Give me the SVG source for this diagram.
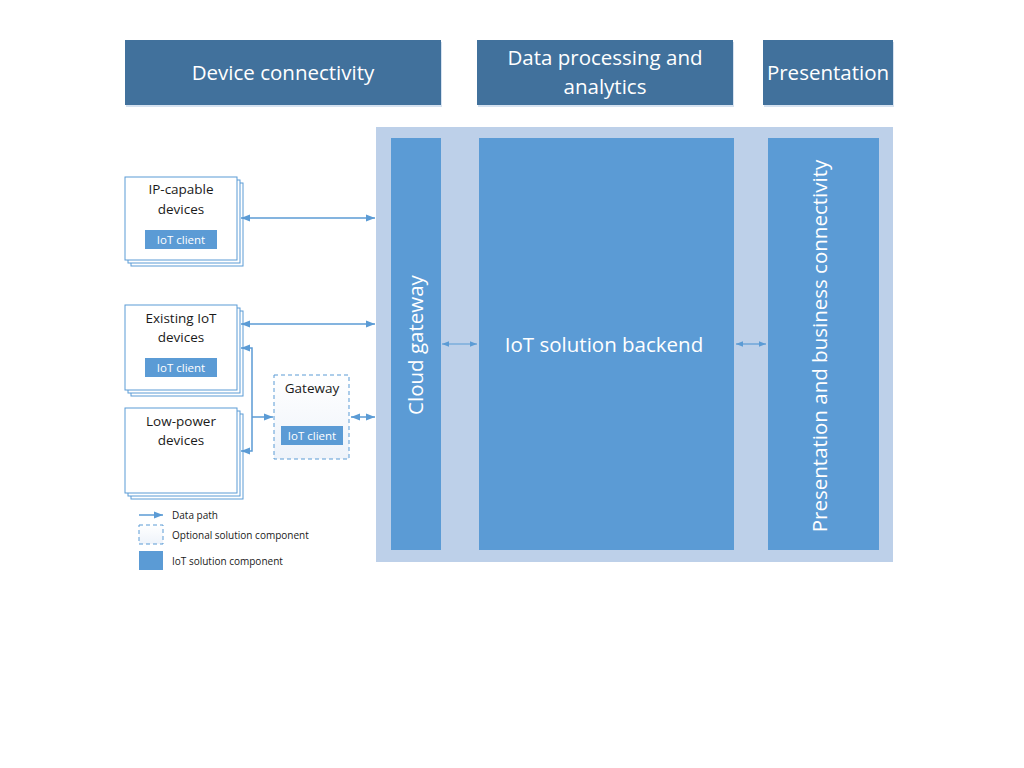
<svg xmlns="http://www.w3.org/2000/svg" width="1024" height="768" viewBox="0 0 1024 768">
<defs>
<style>
.hdr{fill:#41719C}
.hdrt{font-family:"Open Sans","Liberation Sans",sans-serif;font-size:20.5px;fill:#ffffff;text-anchor:middle}
.comp{fill:#5B9BD5}
.compt{font-family:"Open Sans","Liberation Sans",sans-serif;font-size:20.5px;fill:#ffffff;text-anchor:middle}
.dev{fill:#ffffff;stroke:#5B9BD5;stroke-width:1}
.devt{font-family:"Open Sans","Liberation Sans",sans-serif;font-size:13.5px;fill:#1a1a1a;text-anchor:middle}
.cl{fill:#5B9BD5}
.clt{font-family:"Open Sans","Liberation Sans",sans-serif;font-size:11.5px;fill:#ffffff;text-anchor:middle}
.con{fill:none;stroke:#5B9BD5;stroke-width:1.5}
.lgt{font-family:"Open Sans","Liberation Sans",sans-serif;font-size:10px;fill:#1a1a1a}
</style>
<linearGradient id="gw" x1="0" y1="0" x2="0" y2="1">
<stop offset="0" stop-color="#ffffff"/>
<stop offset="1" stop-color="#eef3fa"/>
</linearGradient>
<marker id="ah" viewBox="0 0 10 10" refX="10" refY="5" markerWidth="6" markerHeight="6" orient="auto-start-reverse" markerUnits="strokeWidth">
<path d="M0,1 L10,5 L0,9 Z" fill="#5B9BD5"/>
</marker>
</defs>
<rect width="1024" height="768" fill="#ffffff"/>

<g id="hdr-device">
<rect x="126" y="42" width="316" height="65" fill="#D6E2F0"/>
<rect class="hdr" x="125" y="40" width="316" height="65"/>
<text class="hdrt" x="283" y="80">Device connectivity</text>
</g>
<g id="hdr-data">
<rect x="478" y="42" width="256" height="65" fill="#D6E2F0"/>
<rect class="hdr" x="477" y="40" width="256" height="65"/>
<text class="hdrt" x="605" y="65">Data processing and</text>
<text class="hdrt" x="605" y="94">analytics</text>
</g>
<g id="hdr-presentation">
<rect x="764" y="42" width="130" height="65" fill="#D6E2F0"/>
<rect class="hdr" x="763" y="40" width="130" height="65"/>
<text class="hdrt" x="828" y="80">Presentation</text>
</g>

<g id="solution-panel">
<rect x="376" y="127" width="517" height="435" fill="#BDD0E9"/>
</g>
<g id="cloud-gateway">
<rect class="comp" x="391" y="138" width="50" height="412"/>
<text class="compt" transform="translate(423,345) rotate(-90)">Cloud gateway</text>
</g>
<g id="backend">
<rect class="comp" x="479" y="138" width="255" height="412"/>
<text class="compt" x="604" y="352">IoT solution backend</text>
</g>
<g id="presentation-connectivity">
<rect class="comp" x="768" y="138" width="111" height="412"/>
<text class="compt" transform="translate(827,346) rotate(-90)">Presentation and business connectivity</text>
</g>

<g id="ip-devices">
<rect class="dev" x="131" y="183" width="112" height="83"/>
<rect class="dev" x="128" y="180" width="112" height="83"/>
<rect class="dev" x="125" y="177" width="112" height="83"/>
<text class="devt" x="181" y="194">IP-capable</text>
<text class="devt" x="181" y="214">devices</text>
<rect class="cl" x="145" y="230" width="72" height="19"/>
<text class="clt" x="181" y="244">IoT client</text>
</g>
<g id="existing-devices">
<rect class="dev" x="131" y="311" width="112" height="85"/>
<rect class="dev" x="128" y="308" width="112" height="85"/>
<rect class="dev" x="125" y="305" width="112" height="85"/>
<text class="devt" x="181" y="323">Existing IoT</text>
<text class="devt" x="181" y="342">devices</text>
<rect class="cl" x="145" y="358" width="72" height="19"/>
<text class="clt" x="181" y="372">IoT client</text>
</g>
<g id="lowpower-devices">
<rect class="dev" x="131" y="414" width="112" height="85"/>
<rect class="dev" x="128" y="411" width="112" height="85"/>
<rect class="dev" x="125" y="408" width="112" height="85"/>
<text class="devt" x="181" y="426">Low-power</text>
<text class="devt" x="181" y="445">devices</text>
</g>
<g id="gateway">
<rect x="274" y="375" width="75" height="84" fill="url(#gw)" stroke="#5B9BD5" stroke-width="1" stroke-dasharray="4,3"/>
<text class="devt" x="312" y="393">Gateway</text>
<rect class="cl" x="281" y="426" width="62" height="19"/>
<text class="clt" x="312" y="440">IoT client</text>
</g>

<g id="connectors">
<line class="con" x1="241" y1="218" x2="375" y2="218" marker-start="url(#ah)" marker-end="url(#ah)"/>
<line class="con" x1="241" y1="324" x2="375" y2="324" marker-start="url(#ah)" marker-end="url(#ah)"/>
<line class="con" x1="351" y1="417" x2="375" y2="417" marker-start="url(#ah)" marker-end="url(#ah)"/>
<polyline class="con" points="241,348 252,348 252,451 241,451" marker-start="url(#ah)" marker-end="url(#ah)"/>
<line class="con" x1="252" y1="417" x2="273" y2="417" marker-end="url(#ah)"/>
<line class="con" x1="442" y1="344" x2="477" y2="344" marker-start="url(#ah)" marker-end="url(#ah)" style="stroke-width:1.2"/>
<line class="con" x1="736" y1="344" x2="766" y2="344" marker-start="url(#ah)" marker-end="url(#ah)" style="stroke-width:1.2"/>
</g>

<g id="legend">
<line class="con" x1="139" y1="515" x2="163" y2="515" marker-end="url(#ah)"/>
<text class="lgt" x="172" y="519">Data path</text>
<rect x="139" y="525" width="24" height="19" fill="url(#gw)" stroke="#5B9BD5" stroke-width="1" stroke-dasharray="4,3"/>
<text class="lgt" x="172" y="539">Optional solution component</text>
<rect class="comp" x="139" y="551" width="24" height="19"/>
<text class="lgt" x="172" y="565">IoT solution component</text>
</g>
</svg>
